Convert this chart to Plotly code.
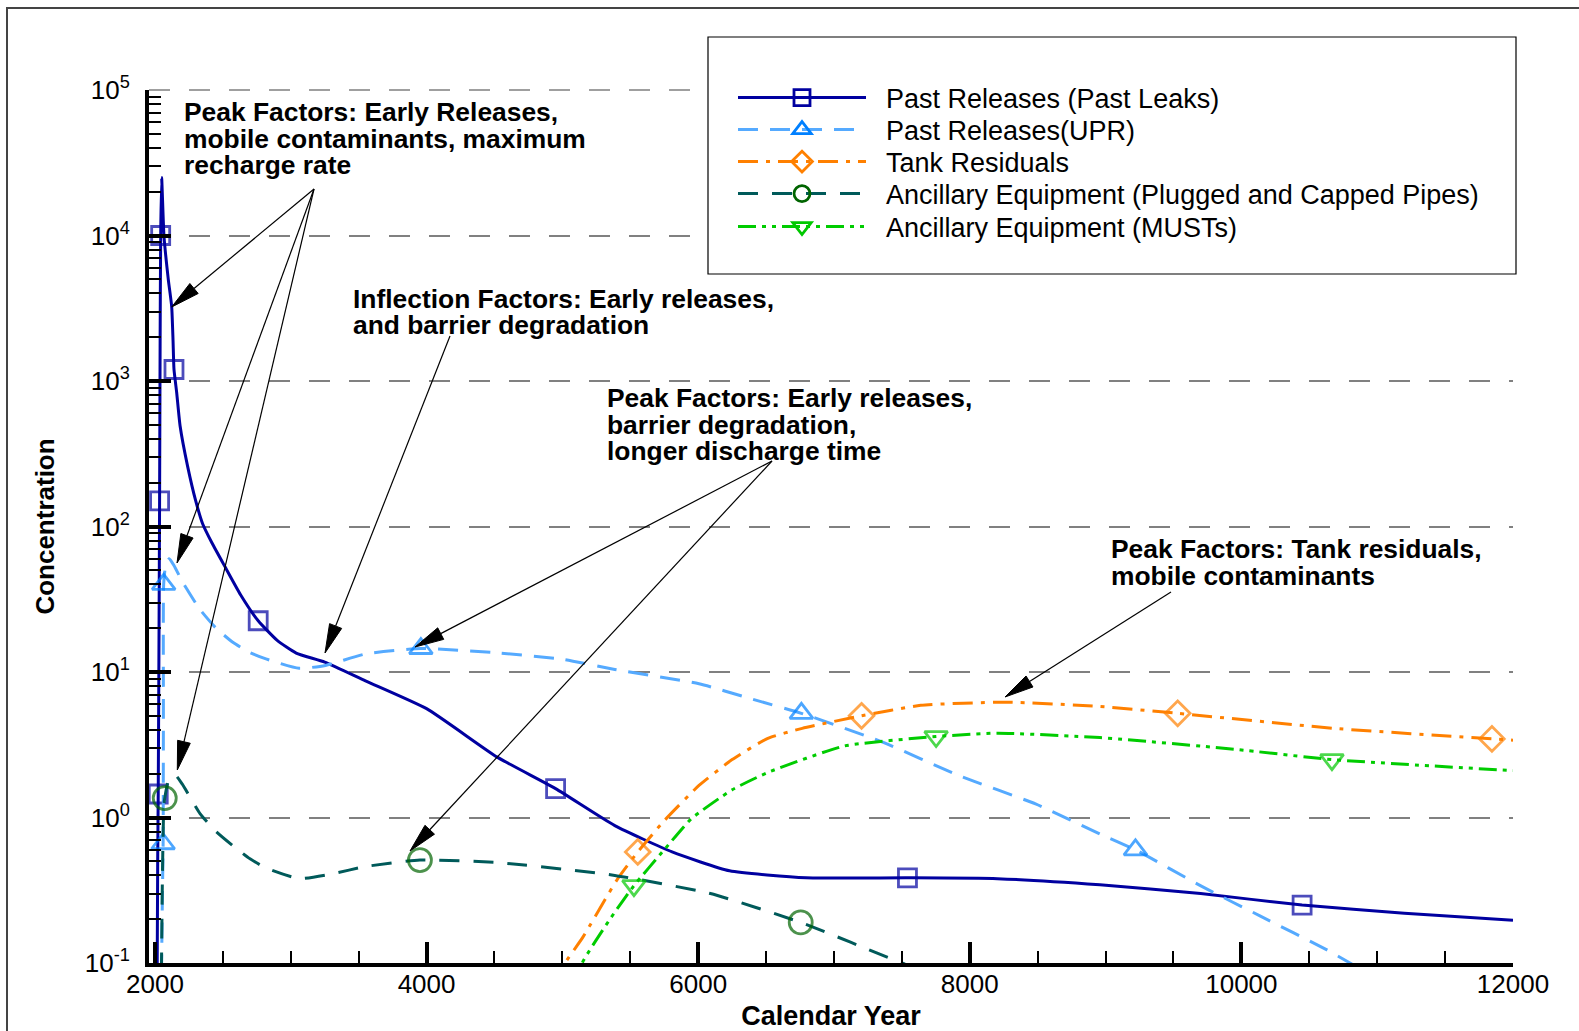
import plotly.graph_objects as go

# ---------------- data ----------------
leaks_year = [2015, 2020, 2024, 2030, 2034, 2038, 2042, 2049, 2066, 2098, 2123, 2133, 2140, 2160,
              2185, 2240, 2300, 2350, 2420, 2520, 2630, 2760, 2900, 3040, 3250, 3550, 4000, 4520,
              4950, 5386, 5808, 6231, 6794, 7541, 8203, 8958, 9700, 10447, 11200, 12000]
leaks_conc = [0.05, 0.5, 1.45, 20, 150, 2000, 10000, 25000, 10000, 5000, 3250, 1900, 1200, 830,
              490, 260, 150, 105, 77, 52, 34, 22.5, 16.5, 13.5, 11.7, 8.7, 5.6, 2.6,
              1.58, 0.88, 0.58, 0.43, 0.385, 0.385, 0.38, 0.345, 0.30, 0.25, 0.22, 0.197]
leaks_mark = [0, 0, 1, 0, 1, 0, 1, 0, 0, 0, 0, 0, 1, 0,
              0, 0, 0, 0, 0, 0, 0, 1, 0, 0, 0, 0, 0, 0,
              1, 0, 0, 0, 0, 1, 0, 0, 0, 1, 0, 0]

upr_year = [2045, 2055, 2060, 2062, 2064, 2080, 2105, 2140, 2200, 2330, 2450, 2573, 2700, 2817,
            3061, 3256, 3549, 3958, 4541, 5012, 5386, 6006, 6400, 6760, 7358, 7921, 8484, 8958,
            9220, 9698, 10140, 10630, 10800, 10950]
upr_conc = [0.05, 0.3, 0.66, 5, 40, 55, 60, 54, 42, 27, 20, 16, 13.6, 12.3,
            10.6, 11.1, 13.3, 14.5, 13.5, 12.2, 10.4, 8.3, 6.5, 5.2, 3.3, 1.94, 1.24, 0.77,
            0.6, 0.34, 0.21, 0.123, 0.1, 0.082]
upr_mark = [0, 0, 1, 0, 1, 0, 0, 0, 0, 0, 0, 0, 0, 0,
            0, 0, 0, 1, 0, 0, 0, 0, 0, 1, 0, 0, 0, 0,
            1, 0, 0, 0, 0, 0]

tank_year = [4950, 5020, 5150, 5400, 5555, 5750, 6006, 6250, 6513, 6766, 7203, 7639, 8259, 8958,
             9531, 10680, 11845, 12000]
tank_conc = [0.07, 0.1, 0.15, 0.37, 0.58, 0.95, 1.66, 2.5, 3.5, 4.1, 5.0, 5.9, 6.2, 5.8,
             5.2, 4.1, 3.47, 3.4]
tank_mark = [0, 0, 0, 0, 1, 0, 0, 0, 0, 0, 1, 0, 0, 0,
             1, 0, 1, 0]

pipes_year = [2045, 2055, 2065, 2072, 2100, 2150, 2200, 2333, 2450, 2573, 2700, 2817, 3061, 3305,
              3549, 3951, 4524, 5386, 6090, 6755, 7499, 7700]
pipes_conc = [0.05, 0.4, 1.2, 1.36, 1.8, 1.95, 1.7, 1.06, 0.8, 0.64, 0.52, 0.45, 0.38, 0.41,
              0.46, 0.51, 0.49, 0.40, 0.30, 0.19, 0.1, 0.085]
pipes_mark = [0, 0, 0, 1, 0, 0, 0, 0, 0, 0, 0, 0, 0, 0,
              0, 1, 0, 0, 0, 1, 0, 0]

musts_year = [5100, 5146, 5350, 5527, 5750, 5949, 6250, 6513, 7076, 7752, 8203, 8958, 9944, 10667,
              12000]
musts_conc = [0.07, 0.1, 0.2, 0.34, 0.6, 0.98, 1.55, 2.04, 3.1, 3.6, 3.8, 3.54, 2.95, 2.5,
              2.1]
musts_mark = [0, 0, 0, 1, 0, 0, 0, 0, 0, 1, 0, 0, 0, 1,
              0]

series_names = ["Past Releases (Past Leaks)", "Past Releases(UPR)", "Tank Residuals",
                "Ancillary Equipment (Plugged and Capped Pipes)", "Ancillary Equipment (MUSTs)"]

x_tick_vals = [2000, 4000, 6000, 8000, 10000, 12000]
y_tick_exps = [-1, 0, 1, 2, 3, 4, 5]

# ---------------- layout geometry ----------------
W, H = 1579, 1031
L, R, T, B = 149, 66, 90, 68
PW, PH = W - L - R, H - T - B
FONT = "Liberation Sans, Arial, Helvetica, sans-serif"


def px(xp):
    return (xp - L) / PW


def py(yp):
    return 1 - (yp - T) / PH


fig = go.Figure()

styles = [
    ("#0000A0", "solid", "square-open", "#0000A0", 18),
    ("#55AAFF", "20px,12px", "triangle-up-open", "#0080FF", 20),
    ("#FF8000", "20px,8px,4px,8px", "diamond-open", "#FF8000", 19),
    ("#005A5A", "20px,14px", "circle-open", "#006400", 23),
    ("#00CC00", "18px,6px,4px,6px,4px,6px", "triangle-down-open", "#00C800", 20),
]
data = [
    (leaks_year, leaks_conc, leaks_mark),
    (upr_year, upr_conc, upr_mark),
    (tank_year, tank_conc, tank_mark),
    (pipes_year, pipes_conc, pipes_mark),
    (musts_year, musts_conc, musts_mark),
]

legend_rows = [98, 130, 162, 194, 227]
legend_ids = ["legend", "legend2", "legend3", "legend4", "legend5"]

for name, (xs, ys, marks), (lcol, dash, sym, mcol, msize) in zip(series_names, data, styles):
    fig.add_trace(go.Scatter(
        x=xs, y=ys, name=name, mode="lines+markers", showlegend=False,
        line=dict(color=lcol, width=3, dash=dash, shape="spline", smoothing=0.5),
        marker=dict(symbol=sym, color=mcol, size=[msize if m else 0 for m in marks],
                    line=dict(width=2.8, color=mcol)),
    ))

# legend entries (one legend per row so the row spacing matches)
for name, lid, (lcol, dash, sym, mcol, msize) in zip(series_names, legend_ids, styles):
    fig.add_trace(go.Scatter(
        x=[None], y=[None], name="\u00a0\u00a0" + name, mode="lines+markers",
        legend=lid, showlegend=True,
        line=dict(color=lcol, width=3, dash=dash),
        marker=dict(symbol=sym, color=mcol, size=msize, line=dict(width=2.8, color=mcol)),
    ))

legend_layout = {}
for lid, yc in zip(legend_ids, legend_rows):
    legend_layout[lid] = dict(
        x=px(733), y=py(yc), xanchor="left", yanchor="middle",
        bgcolor="rgba(0,0,0,0)", borderwidth=0,
        font=dict(family=FONT, size=27, color="black"),
        itemwidth=128, itemsizing="trace")

# ---------------- annotation texts ----------------
text_blocks = [
    (182, [112, 138.5, 165], ["Peak Factors: Early Releases,", "mobile contaminants, maximum",
                              "recharge rate"]),
    (351, [299, 325], ["Inflection Factors: Early releases,", "and barrier degradation"]),
    (605, [398, 424.5, 451], ["Peak Factors: Early releases,", "barrier degradation,",
                              "longer discharge time"]),
    (1109, [549, 575.5], ["Peak Factors: Tank residuals,", "mobile contaminants"]),
]
annotations = []
for xl, ycs, lines in text_blocks:
    for yc, t in zip(ycs, lines):
        annotations.append(dict(
            x=px(xl), y=py(yc), xref="paper", yref="paper", text=t, showarrow=False,
            xanchor="left", yanchor="middle",
            font=dict(family=FONT, size=26.4, color="black", weight="bold")))

# arrows (tail -> tip) in pixel coordinates
arrows = [
    ((314, 189), (171.7, 307)),
    ((314, 189), (177, 563)),
    ((314, 189), (177.3, 770)),
    ((450, 336), (325, 653)),
    ((772, 461), (415, 647)),
    ((772, 461), (410, 851)),
    ((1171, 592), (1005, 697)),
]
shapes = []
HEAD_L, HEAD_W = 29, 6.5
for (tx, ty), (hx, hy) in arrows:
    dx, dy = hx - tx, hy - ty
    n = (dx * dx + dy * dy) ** 0.5
    ux, uy = dx / n, dy / n
    bx, by = hx - ux * HEAD_L, hy - uy * HEAD_L
    shapes.append(dict(type="line", xref="paper", yref="paper",
                       x0=px(tx), y0=py(ty), x1=px(bx), y1=py(by),
                       line=dict(color="black", width=1.2)))
    p1 = (bx - uy * HEAD_W, by + ux * HEAD_W)
    p2 = (bx + uy * HEAD_W, by - ux * HEAD_W)
    path = "M{},{} L{},{} L{},{} Z".format(px(hx), py(hy), px(p1[0]), py(p1[1]),
                                           px(p2[0]), py(p2[1]))
    shapes.append(dict(type="path", xref="paper", yref="paper", path=path,
                       fillcolor="black", line=dict(color="black", width=1)))

# top gridline at 10^5 (plotly omits the gridline on the range edge)
shapes.append(dict(type="line", xref="paper", yref="paper", x0=0, x1=1, y0=1, y1=1,
                   line=dict(color="#808080", width=1.5, dash="21px,19px"), layer="below"))
# legend frame (white, hides the gridlines behind it) and outer frame
shapes.append(dict(type="rect", xref="paper", yref="paper",
                   x0=px(708), y0=py(274), x1=px(1516), y1=py(37),
                   line=dict(color="black", width=1.2), fillcolor="white", layer="above"))
shapes.append(dict(type="rect", xref="paper", yref="paper",
                   x0=px(7), y0=py(1050), x1=px(1600), y1=py(8),
                   line=dict(color="#444444", width=2), layer="below"))

minor_y = [m * 10 ** k for k in range(-1, 5) for m in range(2, 10)]

fig.update_layout(
    template="none",
    width=W, height=H,
    margin=dict(l=L, r=R, t=T, b=B, pad=0),
    paper_bgcolor="white", plot_bgcolor="white",
    font=dict(family=FONT, size=26, color="black"),
    showlegend=True,
    annotations=annotations,
    shapes=shapes,
    xaxis=dict(
        range=[1956, 12000], showline=True, linewidth=4, linecolor="black",
        ticks="inside", ticklen=21, tickwidth=3.5, tickcolor="black",
        tickmode="array", tickvals=x_tick_vals, ticktext=[str(v) for v in x_tick_vals],
        tickfont=dict(family=FONT, size=26), ticklabelstandoff=-5,
        minor=dict(ticks="inside", ticklen=12, tickwidth=1.5, tickcolor="black",
                   tickmode="linear", tick0=2000, dtick=500, showgrid=False),
        showgrid=False, zeroline=False, automargin=False,
        title=dict(text="Calendar Year", standoff=19,
                   font=dict(family=FONT, size=27, weight="bold")),
    ),
    yaxis=dict(
        type="log", range=[-1, 5], showline=True, linewidth=4, linecolor="black",
        ticks="inside", ticklen=22, tickwidth=4, tickcolor="black",
        tickmode="array", tickvals=[10.0 ** e for e in y_tick_exps],
        ticktext=["10<sup>{}</sup>".format(e) for e in y_tick_exps],
        tickfont=dict(family=FONT, size=26), ticklabelstandoff=10,
        minor=dict(ticks="inside", ticklen=12, tickwidth=1.5, tickcolor="black",
                   tickmode="array", tickvals=minor_y, showgrid=False),
        showgrid=True, gridcolor="#808080", gridwidth=1.5, griddash="21px,19px",
        zeroline=False, automargin=False,
        title=dict(text="Concentration", standoff=24,
                   font=dict(family=FONT, size=26, weight="bold")),
    ),
    **legend_layout,
)

fig.write_html("out.html", config={"displayModeBar": False},
               post_script="document.body.style.margin='0px';")
